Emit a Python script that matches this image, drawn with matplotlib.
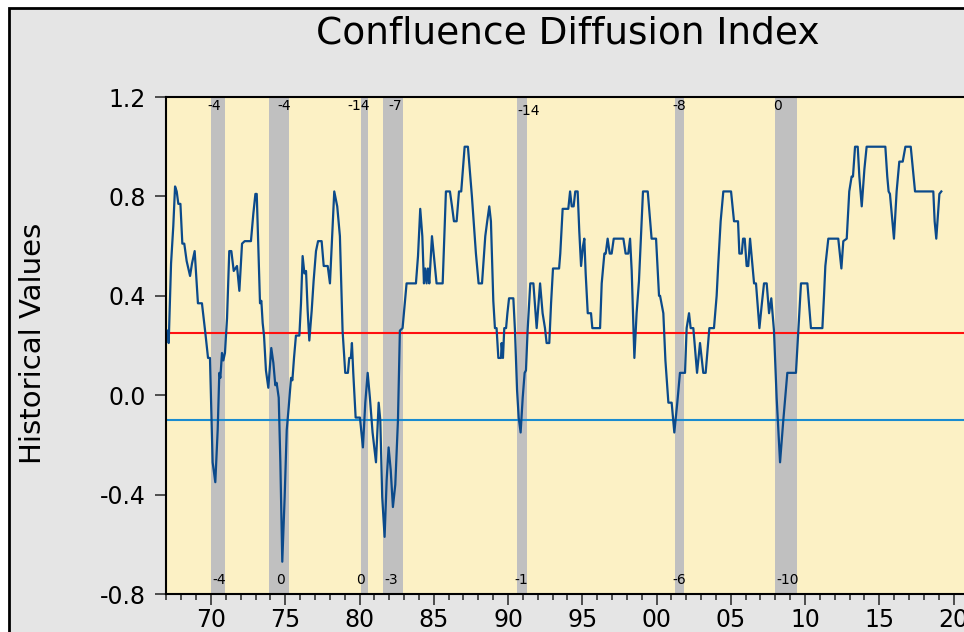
import matplotlib
matplotlib.use("Agg")
import matplotlib.pyplot as plt
import matplotlib.patches as patches
import numpy as np

# turning points of the index (decimal year, value)
dates = [
    1967.10, 1967.15, 1967.31, 1967.46, 1967.58, 1967.69, 1967.80, 1967.94, 1968.07, 1968.20,
    1968.36, 1968.59, 1968.72, 1968.90, 1969.12, 1969.39, 1969.62, 1969.80, 1969.93, 1970.11,
    1970.29, 1970.45, 1970.56, 1970.63, 1970.74, 1970.83, 1970.94, 1971.08, 1971.23, 1971.37,
    1971.53, 1971.75, 1971.91, 1972.09, 1972.27, 1972.69, 1972.85, 1972.99, 1973.08, 1973.30,
    1973.39, 1973.48, 1973.57, 1973.70, 1973.86, 1974.06, 1974.20, 1974.33, 1974.42, 1974.56,
    1974.67, 1974.80, 1974.96, 1975.10, 1975.23, 1975.39, 1975.48, 1975.59, 1975.72, 1975.95,
    1976.06, 1976.17, 1976.29, 1976.40, 1976.51, 1976.62, 1976.78, 1976.91, 1977.07, 1977.21,
    1977.45, 1977.59, 1977.86, 1978.01, 1978.30, 1978.50, 1978.68, 1978.86, 1979.04, 1979.22,
    1979.31, 1979.42, 1979.49, 1979.58, 1979.74, 1980.03, 1980.23, 1980.39, 1980.55, 1980.70,
    1980.88, 1981.11, 1981.29, 1981.40, 1981.53, 1981.69, 1981.83, 1981.96, 1982.10, 1982.25,
    1982.41, 1982.59, 1982.72, 1982.90, 1983.17, 1983.80, 1983.94, 1984.09, 1984.23, 1984.34,
    1984.43, 1984.52, 1984.61, 1984.70, 1984.88, 1985.01, 1985.19, 1985.60, 1985.82, 1986.09,
    1986.23, 1986.36, 1986.54, 1986.70, 1986.85, 1987.08, 1987.30, 1987.57, 1987.84, 1988.02,
    1988.25, 1988.47, 1988.60, 1988.74, 1988.85, 1989.01, 1989.12, 1989.23, 1989.35, 1989.53,
    1989.57, 1989.66, 1989.75, 1989.87, 1989.96, 1990.07, 1990.36, 1990.47, 1990.61, 1990.72,
    1990.85, 1990.99, 1991.12, 1991.21, 1991.32, 1991.50, 1991.71, 1991.93, 1992.16, 1992.33,
    1992.49, 1992.60, 1992.78, 1992.90, 1993.03, 1993.44, 1993.52, 1993.68, 1994.06, 1994.18,
    1994.29, 1994.42, 1994.53, 1994.69, 1994.80, 1994.92, 1995.05, 1995.14, 1995.23, 1995.37,
    1995.59, 1995.68, 1996.20, 1996.31, 1996.49, 1996.58, 1996.71, 1996.85, 1996.98, 1997.12,
    1997.77, 1997.92, 1998.10, 1998.22, 1998.33, 1998.51, 1998.66, 1998.82, 1998.93, 1999.09,
    1999.41, 1999.67, 1999.97, 2000.17, 2000.24, 2000.46, 2000.60, 2000.80, 2001.02, 2001.20,
    2001.40, 2001.58, 2001.92, 2002.03, 2002.19, 2002.30, 2002.48, 2002.73, 2002.93, 2003.15,
    2003.31, 2003.56, 2003.87, 2004.05, 2004.16, 2004.32, 2004.50, 2005.02, 2005.22, 2005.49,
    2005.58, 2005.74, 2005.83, 2005.94, 2006.07, 2006.18, 2006.30, 2006.57, 2006.70, 2006.93,
    2007.08, 2007.24, 2007.42, 2007.58, 2007.73, 2007.91, 2008.09, 2008.32, 2008.54, 2008.81,
    2009.39, 2009.55, 2009.73, 2010.16, 2010.40, 2011.17, 2011.28, 2011.37, 2011.57, 2012.24,
    2012.45, 2012.58, 2012.81, 2012.98, 2013.14, 2013.23, 2013.37, 2013.55, 2013.66, 2013.82,
    2014.00, 2014.15, 2015.41, 2015.54, 2015.63, 2015.72, 2015.99, 2016.17, 2016.35, 2016.58,
    2016.76, 2017.12, 2017.41, 2018.64, 2018.73, 2018.84, 2018.96, 2019.05, 2019.18,
]
values = [
    0.26, 0.21, 0.53, 0.68, 0.84, 0.82, 0.77, 0.77, 0.61, 0.61,
    0.54, 0.48, 0.53, 0.58, 0.37, 0.37, 0.25, 0.15, 0.15, -0.27,
    -0.35, -0.14, 0.09, 0.07, 0.17, 0.14, 0.17, 0.31, 0.58, 0.58,
    0.50, 0.52, 0.42, 0.61, 0.62, 0.62, 0.73, 0.81, 0.81, 0.37,
    0.38, 0.29, 0.24, 0.10, 0.03, 0.19, 0.13, 0.04, 0.05, -0.01,
    -0.27, -0.67, -0.41, -0.14, -0.05, 0.07, 0.06, 0.15, 0.24, 0.24,
    0.37, 0.56, 0.49, 0.50, 0.34, 0.22, 0.34, 0.46, 0.58, 0.62,
    0.62, 0.52, 0.52, 0.45, 0.82, 0.76, 0.64, 0.26, 0.09, 0.09,
    0.15, 0.15, 0.21, 0.09, -0.09, -0.09, -0.21, -0.03, 0.09, -0.01,
    -0.15, -0.27, -0.03, -0.10, -0.41, -0.57, -0.34, -0.21, -0.30, -0.45,
    -0.36, -0.10, 0.26, 0.27, 0.45, 0.45, 0.56, 0.75, 0.64, 0.45,
    0.51, 0.45, 0.51, 0.45, 0.64, 0.56, 0.45, 0.45, 0.82, 0.82,
    0.76, 0.70, 0.70, 0.82, 0.82, 1.00, 1.00, 0.80, 0.57, 0.45,
    0.45, 0.64, 0.70, 0.76, 0.70, 0.38, 0.27, 0.27, 0.15, 0.15,
    0.21, 0.15, 0.27, 0.27, 0.33, 0.39, 0.39, 0.26, 0.02, -0.09,
    -0.15, -0.01, 0.09, 0.10, 0.26, 0.45, 0.45, 0.27, 0.45, 0.33,
    0.27, 0.21, 0.21, 0.37, 0.51, 0.51, 0.57, 0.75, 0.75, 0.82,
    0.76, 0.76, 0.82, 0.82, 0.66, 0.52, 0.60, 0.63, 0.49, 0.33,
    0.33, 0.27, 0.27, 0.45, 0.57, 0.57, 0.63, 0.57, 0.57, 0.63,
    0.63, 0.57, 0.57, 0.63, 0.50, 0.15, 0.33, 0.46, 0.61, 0.82,
    0.82, 0.63, 0.63, 0.40, 0.40, 0.33, 0.14, -0.03, -0.03, -0.15,
    -0.03, 0.09, 0.09, 0.27, 0.33, 0.27, 0.27, 0.09, 0.21, 0.09,
    0.09, 0.27, 0.27, 0.40, 0.53, 0.70, 0.82, 0.82, 0.70, 0.70,
    0.57, 0.57, 0.63, 0.63, 0.52, 0.52, 0.63, 0.45, 0.45, 0.27,
    0.36, 0.45, 0.45, 0.33, 0.39, 0.26, -0.01, -0.27, -0.10, 0.09,
    0.09, 0.26, 0.45, 0.45, 0.27, 0.27, 0.40, 0.52, 0.63, 0.63,
    0.51, 0.62, 0.63, 0.82, 0.88, 0.88, 1.00, 1.00, 0.88, 0.76,
    0.91, 1.00, 1.00, 0.88, 0.82, 0.81, 0.63, 0.82, 0.94, 0.94,
    1.00, 1.00, 0.82, 0.82, 0.70, 0.63, 0.73, 0.81, 0.82,
]

# recession bands and the lead/lag labels printed above and below them
rec_start = [1970.00, 1973.93, 1980.10, 1981.60, 1990.59, 2001.25, 2007.98]
rec_end = [1970.92, 1975.27, 1980.59, 1982.91, 1991.26, 2001.87, 2009.44]
top_lbl = ["-4", "-4", "-14", "-7", "-14", "-8", "0"]
top_x = [1970.24, 1974.95, 1979.97, 1982.42, 1991.38, 2001.55, 2008.15]
bot_lbl = ["-4", "0", "0", "-3", "-1", "-6", "-10"]
bot_x = [1970.57, 1974.71, 1980.10, 1982.12, 1990.91, 2001.55, 2008.82]

upper_ref = 0.25
lower_ref = -0.10

fig = plt.figure(figsize=(9.64, 6.32), dpi=100, facecolor="white")
frame = patches.Rectangle((9 / 964, -0.1), 1.2, 1 - 8 / 632 + 0.1,
                          transform=fig.transFigure, facecolor="#E5E5E5",
                          edgecolor="black", lw=2, zorder=0)
fig.add_artist(frame)

ax = fig.add_axes([166.45 / 964, 0.0601, 801.9 / 964, 0.7864])
ax.set_facecolor("#FCF1C5")

for a, b in zip(rec_start, rec_end):
    ax.axvspan(a, b, color="#C0C0C0", lw=0, zorder=1)

ax.axhline(upper_ref, color="#FF1010", lw=1.5, zorder=2)
ax.axhline(lower_ref, color="#1A8CD0", lw=1.5, zorder=2)
ax.plot(dates, values, color="#0B4A8B", lw=1.6, zorder=3)

for t, x in zip(top_lbl, top_x):
    y = 1.145 if t == "-14" and x > 1990 else 1.163
    ax.text(x, y, t, ha="center", va="center", fontsize=10, zorder=4)
for t, x in zip(bot_lbl, bot_x):
    ax.text(x, -0.742, t, ha="center", va="center", fontsize=10, zorder=4)

ax.set_xlim(1967.0, 2021.0)
ax.set_ylim(-0.8, 1.2)
maj = np.arange(1970, 2021, 5)
ax.set_xticks(maj)
ax.set_xticklabels([f"{y % 100:02d}" for y in maj])
ax.set_xticks(np.arange(1967, 2022), minor=True)
ax.set_yticks([-0.8, -0.4, 0.0, 0.4, 0.8, 1.2])
ax.set_yticklabels(["-0.8", "-0.4", "0.0", "0.4", "0.8", "1.2"])
ax.tick_params(axis="both", which="major", direction="out", length=8, width=1.2,
               labelsize=17, color="#333333")
ax.tick_params(axis="x", which="minor", direction="out", length=4.5, width=1.2,
               color="#333333")
ax.tick_params(axis="y", pad=7)
ax.tick_params(axis="x", pad=2)

for s in ["left", "bottom", "top"]:
    ax.spines[s].set_linewidth(1.5)
ax.spines["right"].set_visible(False)

fig.text(567.5 / 964, 1 - 43 / 632, "Confluence Diffusion Index", ha="center",
         va="baseline", fontsize=27)
fig.text(33 / 964, 1 - 343.5 / 632, "Historical Values", rotation=90,
         ha="center", va="center", fontsize=21)

fig.savefig("out.png", dpi=100, facecolor=fig.get_facecolor())
